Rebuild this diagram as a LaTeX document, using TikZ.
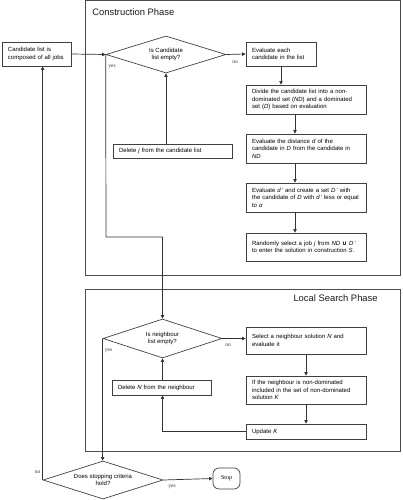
\documentclass[tikz,border=0pt]{standalone}
\usepackage{fontspec}
\setmainfont{Liberation Sans}
\newfontfamily\serifl{Liberation Serif}
\newfontfamily\djv{DejaVu Sans}
\usetikzlibrary{shapes.geometric,arrows.meta,calc}
\begin{document}
\begin{tikzpicture}[x=1pt,y=-1pt,
  line width=0.7pt,
  conn/.style={draw=black!80, line width=0.7pt},
  arr/.style={conn, -{Triangle[length=3.6pt,width=3.4pt]}},
  box/.style={draw=black!75, line width=0.7pt, rectangle, inner xsep=6pt, inner ysep=0pt,
    align=left, font=\fontsize{6}{7.5}\selectfont},
  dia/.style={draw=black!75, line width=0.7pt, diamond, aspect=3.2, inner sep=0pt,
    align=center, font=\fontsize{6}{7.5}\selectfont},
  frame/.style={draw=black!70, line width=0.8pt, rectangle, inner sep=0pt},
  yn/.style={font=\serifl\fontsize{5.5}{6}\selectfont, inner sep=0pt, text=black!80},
  head/.style={font=\fontsize{9.4}{11}\selectfont, inner sep=0pt, text=black!90}
]
\useasboundingbox (0,0) rectangle (402,500);

% phase frames
\node[frame, minimum width=315.5pt, minimum height=274.3pt] (cons) at (242.75,137.85) {};
\node[frame, minimum width=315.5pt, minimum height=162pt] (loc) at (242.75,370) {};
\node[head, anchor=base west] (consT) at (92,15.6) {Construction Phase};
\node[head, anchor=base east] (locT) at (378,301.7) {Local Search Phase};

% construction phase
\node[box, text width=57pt, minimum height=24pt] (cand) at (36.5,54) {Candidate list is\\composed of all jobs};
\node[dia, minimum width=120pt, minimum height=37pt] (d1) at (166,54.5) {Is Candidate\\list empty?};
\node[box, text width=58pt, minimum height=24pt] (eval) at (281,54) {Evaluate each\\candidate in the list};
\node[box, text width=108pt, minimum height=29pt] (divide) at (306,99.5) {Divide the candidate list into a non-\\dominated set (\textit{ND}) and a dominated\\set (\textit{D}) based on evaluation};
\node[box, text width=108pt, minimum height=29pt] (dist) at (306,148.5) {Evaluate the distance \textit{d} of the\\candidate in \textit{D} from the candidate in\\\textit{ND}};
\node[box, text width=108pt, minimum height=29pt] (dprime) at (306,197.5) {Evaluate \textit{d\,'} and create a set \textit{D\,'} with\\the candidate of \textit{D} with \textit{d\,'} less or equal\\to \textit{α}};
\node[box, text width=108pt, minimum height=28pt] (rand) at (306,247) {Randomly select a job \textit{j} from \textit{ND} {\djv\bfseries ∪} \textit{D\,'}\\to enter the solution in construction \textit{S}.\\[3pt]};
\node[box, text width=107pt, minimum height=14pt] (delj) at (172.5,151) {Delete \textit{j} from the candidate list};

% local search phase
\node[dia, minimum width=119pt, minimum height=39pt] (d2) at (162.5,338.5) {Is neighbour\\list empty?};
\node[box, text width=108pt, minimum height=27pt] (select) at (306,340.5) {Select a neighbour solution \textit{N} and\\evaluate it\\[3pt]};
\node[box, text width=108pt, minimum height=28pt] (ifbox) at (306,390) {If the neighbour is non-dominated\\included in the set of non-dominated\\solution \textit{K}};
\node[box, text width=108pt, minimum height=15pt] (update) at (306,431.5) {Update \textit{K}};
\node[box, text width=87pt, minimum height=15pt] (deln) at (161.5,387.5) {Delete \textit{N} from the neighbour};

% stopping
\node[dia, minimum width=120pt, minimum height=38pt] (d3) at (103,480) {Does stopping criteria\\hold?};
\node[draw=black!75, line width=0.7pt, rounded corners=6pt, minimum width=27pt, minimum height=21pt,
  inner sep=0pt, font=\serifl\fontsize{6}{7}\selectfont] (stop) at (226.5,478.5) {Stop};

% connectors
\draw[arr] (cand.east) -- (d1.west);
\draw[arr] (d1.east) -- (eval.west);
\node[yn] (no1) at (235,62) {no};
\draw[arr] (eval.south) -- (eval.south |- divide.north);
\draw[arr] ([xshift=-11pt]divide.south) -- ([xshift=-11pt]dist.north);
\draw[arr] ([xshift=-11pt]dist.south) -- ([xshift=-11pt]dprime.north);
\draw[arr] ([xshift=-11pt]dprime.south) -- ([xshift=-11pt]rand.north);
\draw[arr] (d1.south |- delj.north) -- (d1.south);
\coordinate (c1) at (106,237);
\coordinate (c2) at (162.5,237);
\draw[arr] (d1.west) -- (c1) -- (c2) -- (d2.north);
\node[yn] (yes1) at (112,67) {yes};

\draw[arr] (d2.east) -- (d2.east -| select.west);
\node[yn] (no2) at (228,345.5) {no};
\draw[arr] (select.south) -- (ifbox.north);
\draw[arr] (ifbox.south) -- (update.north);
\coordinate (c3) at (162.5,431.5);
\draw[arr] (update.west) -- (c3) -- (c3 |- deln.south);
\draw[arr] (deln.north -| d2.south) -- (d2.south);
\draw[arr] (d2.west) -- (d2.west |- d3.north);
\node[yn] (yes2) at (108.5,350.5) {yes};

\draw[arr] (d3.east) -- (stop.west);
\node[yn] (yes3) at (172,486.5) {yes};
\draw[arr] (d3.west) -- (d3.west |- cand.south);
\node[yn] (no3) at (37.5,472) {no};
\end{tikzpicture}
\end{document}
